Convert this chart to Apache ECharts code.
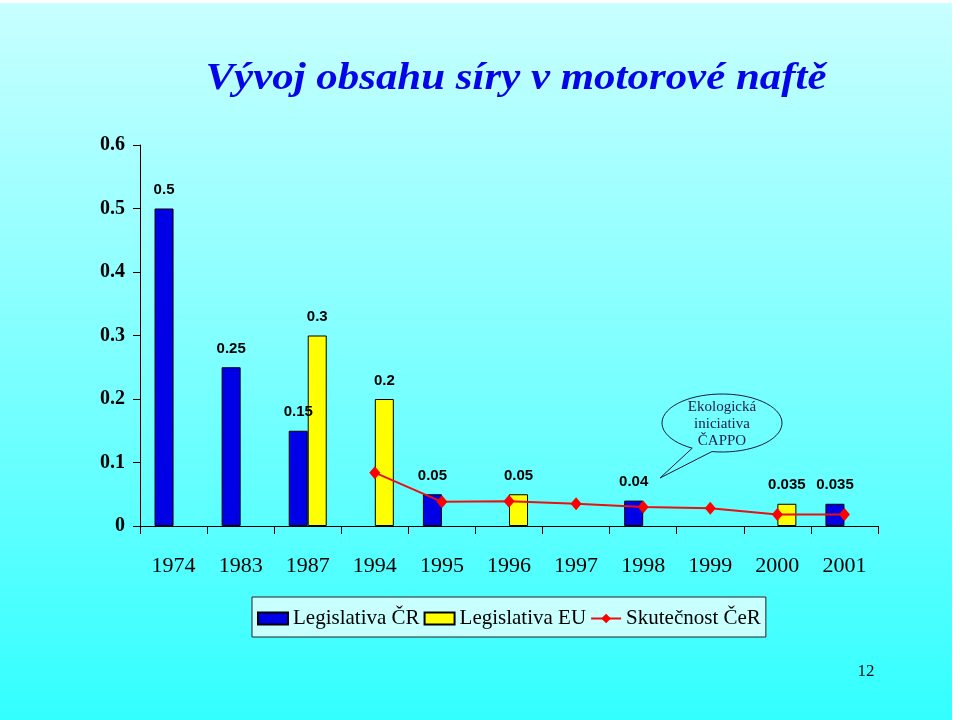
<!DOCTYPE html>
<html>
<head>
<meta charset="utf-8">
<script src="https://cdn.jsdelivr.net/npm/echarts@6/dist/echarts.min.js"></script>
<style>
  html, body { margin: 0; padding: 0; background: #ffffff; }
  #chart { width: 960px; height: 720px; }
</style>
</head>
<body>
<div id="chart"></div>
<script>
// roky
var years = ['1974', '1983', '1987', '1994', '1995', '1996', '1997', '1998', '1999', '2000', '2001'];
// obsah síry (% hm.)
var legislativaCR = [0.5, 0.25, 0.15, '-', 0.05, '-', '-', 0.04, '-', '-', 0.035];
var legislativaEU = ['-', '-', 0.3, 0.2, '-', 0.05, '-', '-', '-', 0.035, '-'];
var skutecnostCeR = ['-', '-', '-', 0.084, 0.038, 0.039, 0.035, 0.030, 0.028, 0.018, 0.018];
var seriesNames = ['Legislativa ČR', 'Legislativa EU', 'Skutečnost ČeR'];
var titleText = 'Vývoj obsahu síry v motorové naftě';
var bubbleText = 'Ekologická\niniciativa\nČAPPO';

var chart = echarts.init(document.getElementById('chart'));

// obrys bubliny: elipsa + špička
function bubblePoints(cx, cy, rx, ry, a0, a1, tip) {
    var pts = [];
    var n = 60;
    for (var i = 0; i <= n; i++) {
        var a = a0 + (a1 - a0) * i / n;
        pts.push([cx + rx * Math.cos(a), cy + ry * Math.sin(a)]);
    }
    pts.push(tip);
    return pts;
}
// úhly: od pravé paty špičky přes pravou a horní stranu k levé patě
var bubble = bubblePoints(722, 423, 60, 29, 2.09, 2.09 + 2 * Math.PI - 0.35, [660, 478]);

var barLabel = {
    show: true,
    position: 'top',
    distance: 11,
    color: '#000',
    fontFamily: 'Liberation Sans, Arial, sans-serif',
    fontWeight: 'bold',
    fontSize: 15
};

var option = {
    animation: false,
    backgroundColor: '#ffffff',
    graphic: [
        {
            type: 'rect',
            z: -10,
            silent: true,
            shape: { x: 0, y: 3, width: 952, height: 717 },
            style: {
                fill: {
                    type: 'linear', x: 0, y: 0, x2: 0, y2: 1,
                    colorStops: [
                        { offset: 0, color: '#c8ffff' },
                        { offset: 1, color: '#33ffff' }
                    ]
                }
            }
        },
        {
            type: 'text',
            x: 516,
            y: 79,
            scaleX: 1.16,
            scaleY: 1.05,
            style: {
                x: 0, y: 0,
                text: titleText,
                align: 'center',
                verticalAlign: 'middle',
                fontFamily: 'Liberation Serif, Times New Roman, serif',
                fontStyle: 'italic',
                fontWeight: 'bold',
                fontSize: 37,
                fill: '#0505e8',
                textShadowColor: '#000050',
                textShadowOffsetX: 2,
                textShadowOffsetY: 2,
                textShadowBlur: 0
            }
        },
        {
            type: 'polygon',
            shape: { points: bubble },
            style: { fill: 'none', stroke: '#1a1a3a', lineWidth: 1 }
        },
        {
            type: 'text',
            x: 722,
            y: 424,
            style: {
                text: bubbleText,
                align: 'center',
                verticalAlign: 'middle',
                lineHeight: 17,
                fontFamily: 'Liberation Serif, Times New Roman, serif',
                fontSize: 15,
                fill: '#22224a'
            }
        },
        {
            type: 'text',
            x: 866,
            y: 672,
            style: {
                text: '12',
                align: 'center',
                verticalAlign: 'middle',
                fontFamily: 'Liberation Serif, Times New Roman, serif',
                fontSize: 17,
                fill: '#111'
            }
        }
    ],
    legend: {
        data: [
            { name: seriesNames[0], icon: 'rect' },
            { name: seriesNames[1], icon: 'rect' },
            { name: seriesNames[2] }
        ],
        left: 252,
        top: 597,
        padding: [11, 5, 8, 5],
        itemGap: 4,
        itemWidth: 30,
        itemHeight: 12,
        backgroundColor: '#c8ffff',
        borderColor: '#222',
        borderWidth: 1,
        borderRadius: 0,
        textStyle: {
            color: '#000',
            fontFamily: 'Liberation Serif, Times New Roman, serif',
            fontSize: 21,
            padding: [2, 0, 0, 0]
        }
    },
    grid: {
        left: 140,
        right: 82,
        top: 145,
        bottom: 194
    },
    xAxis: {
        type: 'category',
        data: years,
        boundaryGap: true,
        axisLine: { show: true, lineStyle: { color: '#000', width: 1 } },
        axisTick: { show: true, inside: false, length: 8, lineStyle: { color: '#000' } },
        axisLabel: {
            margin: 29,
            color: '#000',
            fontFamily: 'Liberation Serif, Times New Roman, serif',
            fontSize: 22
        },
        splitLine: { show: false }
    },
    yAxis: {
        type: 'value',
        min: 0,
        max: 0.6,
        interval: 0.1,
        axisLine: { show: true, lineStyle: { color: '#000', width: 1 } },
        axisTick: { show: true, inside: false, length: 7, lineStyle: { color: '#000' } },
        axisLabel: {
            margin: 15,
            color: '#000',
            fontFamily: 'Liberation Serif, Times New Roman, serif',
            fontWeight: 'bold',
            fontSize: 20
        },
        splitLine: { show: false }
    },
    series: [
        {
            name: seriesNames[0],
            type: 'bar',
            data: legislativaCR,
            barWidth: 19,
            barGap: '0%',
            itemStyle: { color: '#0000e6', borderColor: '#000', borderWidth: 1 },
            label: barLabel
        },
        {
            name: seriesNames[1],
            type: 'bar',
            data: legislativaEU,
            barWidth: 19,
            barGap: '0%',
            itemStyle: { color: '#ffff00', borderColor: '#000', borderWidth: 1 },
            label: barLabel
        },
        {
            name: seriesNames[2],
            type: 'line',
            data: skutecnostCeR,
            z: 5,
            symbol: 'diamond',
            symbolSize: [11, 13],
            lineStyle: { color: '#e81010', width: 2 },
            itemStyle: { color: '#ff0000' }
        }
    ]
};

chart.setOption(option);
</script>
</body>
</html>
